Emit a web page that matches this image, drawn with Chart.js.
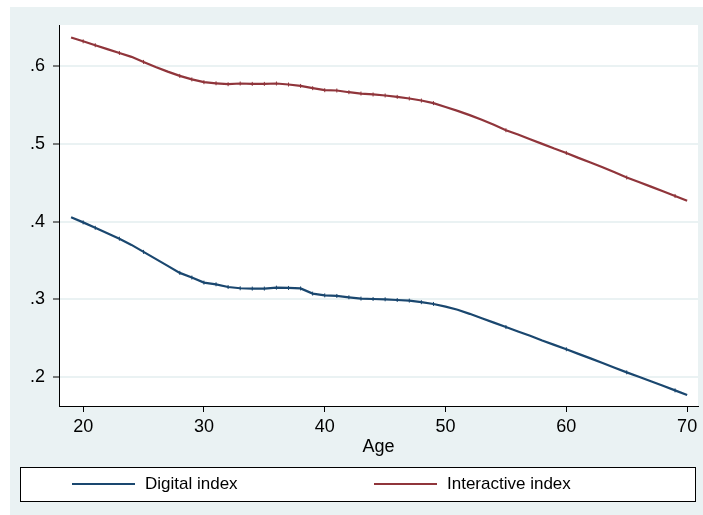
<!DOCTYPE html>
<html lang="en">
  <head>
    <meta charset="UTF-8" />
    <title>age index</title>
    <script src="https://cdn.jsdelivr.net/npm/chart.js@4"></script>
    <style>
      html, body { margin: 0; padding: 0; background: #ffffff; }
      .chart-box { width: 703px; height: 515px; }
    </style>
  </head>
  <body>
    <div class="chart-box">
      <canvas id="ageChart"></canvas>
    </div>

    <script>
      //data
      const ages = [19, 20, 21, 22, 23, 24, 25, 26, 27, 28, 29, 30, 31, 32, 33, 34, 35, 36, 37, 38, 39,
        40, 41, 42, 43, 44, 45, 46, 47, 48, 49, 50, 51, 52, 53, 54, 55, 56, 57, 58, 59, 60,
        61, 62, 63, 64, 65, 66, 67, 68, 69, 70];

      const digitalIndex = [0.4055, 0.399, 0.392, 0.385, 0.378, 0.370, 0.361, 0.352, 0.343, 0.334, 0.328,
        0.3215, 0.3193, 0.3158, 0.3142, 0.3138, 0.3138, 0.3150, 0.3146, 0.3140, 0.3073,
        0.3051, 0.3043, 0.3026, 0.3009, 0.3004, 0.3000, 0.2991, 0.2983, 0.2963, 0.2940,
        0.2905, 0.2865, 0.2813, 0.2756, 0.2700, 0.2643, 0.2586, 0.2530, 0.2470, 0.2414,
        0.2357, 0.2298, 0.2240, 0.2180, 0.2120, 0.2060, 0.2003, 0.1945, 0.1887, 0.1828, 0.1768];

      const interactiveIndex = [0.637, 0.632, 0.627, 0.622, 0.617, 0.612, 0.6055, 0.599, 0.593, 0.5875, 0.583,
        0.5794, 0.578, 0.5768, 0.5777, 0.5772, 0.5772, 0.5777, 0.5764, 0.5746, 0.5717,
        0.5691, 0.5687, 0.5665, 0.5648, 0.5636, 0.5623, 0.5605, 0.5584, 0.5558, 0.5525,
        0.5475, 0.5425, 0.537, 0.531, 0.5245, 0.5176, 0.512, 0.506, 0.500, 0.494,
        0.4884, 0.482, 0.476, 0.470, 0.4635, 0.4567, 0.451, 0.445, 0.439, 0.433, 0.4267];

      //ages that carry the little tick markers
      const markedAges = [20, 21, 23, 25, 28, 29, 30, 31, 32, 33, 34, 35, 36, 37, 38, 39, 40,
        41, 42, 43, 44, 45, 46, 47, 48, 49, 55, 60, 65, 69];

      const seriesLabels = ["Digital index", "Interactive index"];
      const xTicks = [20, 30, 40, 50, 60, 70];
      const yTicks = [0.2, 0.3, 0.4, 0.5, 0.6];

      //colors (stata s2color)
      const navy = "rgb(26, 71, 111)";
      const maroon = "rgb(144, 53, 59)";
      const bgcolor = "#EAF2F3";

      const fontfamily = "'Liberation Sans', Arial, sans-serif";
      const tickfontsize = 18;

      function toPoints(values) {
        return ages.map((a, i) => ({ x: a, y: values[i] }));
      }

      function markerRadius(ctx) {
        const p = ctx.raw;
        if (p && markedAges.includes(p.x)) return 2;
        return 0;
      }

      //outer grey-blue background + white plot region
      const backgroundPlugin = {
        id: "stataBackground",
        beforeDraw(chart) {
          const c = chart.ctx;
          const area = chart.chartArea;
          c.save();
          c.fillStyle = bgcolor;
          c.fillRect(10, 7, chart.width - 10, chart.height - 7);
          c.fillStyle = "#ffffff";
          c.fillRect(area.left, area.top, area.right - area.left, area.bottom - area.top);
          c.restore();
        },
      };

      //legend drawn as a boxed row like stata
      const legendPlugin = {
        id: "stataLegend",
        afterDraw(chart) {
          const c = chart.ctx;
          const sets = chart.data.datasets;
          const boxTop = 467;
          const boxH = 34;
          const midY = boxTop + boxH / 2;
          const lineStarts = [72, 374];
          c.save();
          c.fillStyle = "#ffffff";
          c.fillRect(20, boxTop, 675, boxH);
          c.strokeStyle = "#000000";
          c.lineWidth = 1;
          c.strokeRect(20.5, boxTop + 0.5, 675, boxH);
          c.font = "17px " + fontfamily;
          c.textBaseline = "middle";
          c.textAlign = "left";
          sets.forEach((ds, i) => {
            const x0 = lineStarts[i];
            c.strokeStyle = ds.borderColor;
            c.lineWidth = 2;
            c.beginPath();
            c.moveTo(x0, midY);
            c.lineTo(x0 + 63, midY);
            c.stroke();
            c.fillStyle = "#000000";
            c.fillText(ds.label, x0 + 73, midY);
          });
          c.restore();
        },
      };

      const datasets = [
        {
          label: seriesLabels[0],
          data: toPoints(digitalIndex),
          borderColor: navy,
          backgroundColor: navy,
          borderWidth: 2.2,
          pointStyle: "line",
          rotation: 90,
          pointRadius: markerRadius,
          pointBorderWidth: 1,
          pointBorderColor: navy,
          tension: 0,
        },
        {
          label: seriesLabels[1],
          data: toPoints(interactiveIndex),
          borderColor: maroon,
          backgroundColor: maroon,
          borderWidth: 2.2,
          pointStyle: "line",
          rotation: 90,
          pointRadius: markerRadius,
          pointBorderWidth: 1,
          pointBorderColor: maroon,
          tension: 0,
        },
      ];

      const config = {
        type: "line",
        data: { datasets: datasets },
        options: {
          responsive: true,
          maintainAspectRatio: false,
          animation: false,
          layout: {
            padding: { top: 25, right: 5, bottom: 49, left: 0 },
          },
          plugins: {
            legend: { display: false },
            tooltip: { enabled: false },
          },
          scales: {
            x: {
              type: "linear",
              min: 18.0,
              max: 70.9,
              afterBuildTicks: (scale) => {
                scale.ticks = xTicks.map((v) => ({ value: v }));
              },
              afterFit: (scale) => {
                scale.height = 60;
              },
              border: { display: true, color: "#000000", width: 1 },
              grid: {
                drawOnChartArea: false,
                drawTicks: true,
                tickLength: 6,
                tickColor: "#000000",
              },
              ticks: {
                color: "#000000",
                padding: 4,
                maxRotation: 0,
                font: { size: tickfontsize, family: fontfamily },
              },
              title: {
                display: true,
                text: "Age",
                color: "#000000",
                padding: { top: 0, bottom: 8 },
                font: { size: tickfontsize, family: fontfamily },
              },
            },
            y: {
              type: "linear",
              min: 0.1627,
              max: 0.653,
              afterBuildTicks: (scale) => {
                scale.ticks = yTicks.map((v) => ({ value: v }));
              },
              afterFit: (scale) => {
                scale.width = 59;
              },
              border: { display: true, color: "#000000", width: 1 },
              grid: {
                color: bgcolor,
                lineWidth: 2,
                drawTicks: true,
                tickLength: 6,
                tickColor: "#000000",
                tickWidth: 1,
              },
              ticks: {
                color: "#000000",
                padding: 8,
                font: { size: tickfontsize, family: fontfamily },
                callback: (v) => Number(v).toFixed(1).replace(/^0/, ""),
              },
            },
          },
        },
        plugins: [backgroundPlugin, legendPlugin],
      };

      const ageCtx = document.getElementById("ageChart").getContext("2d");
      const ageChart = new Chart(ageCtx, config);
    </script>
  </body>
</html>
